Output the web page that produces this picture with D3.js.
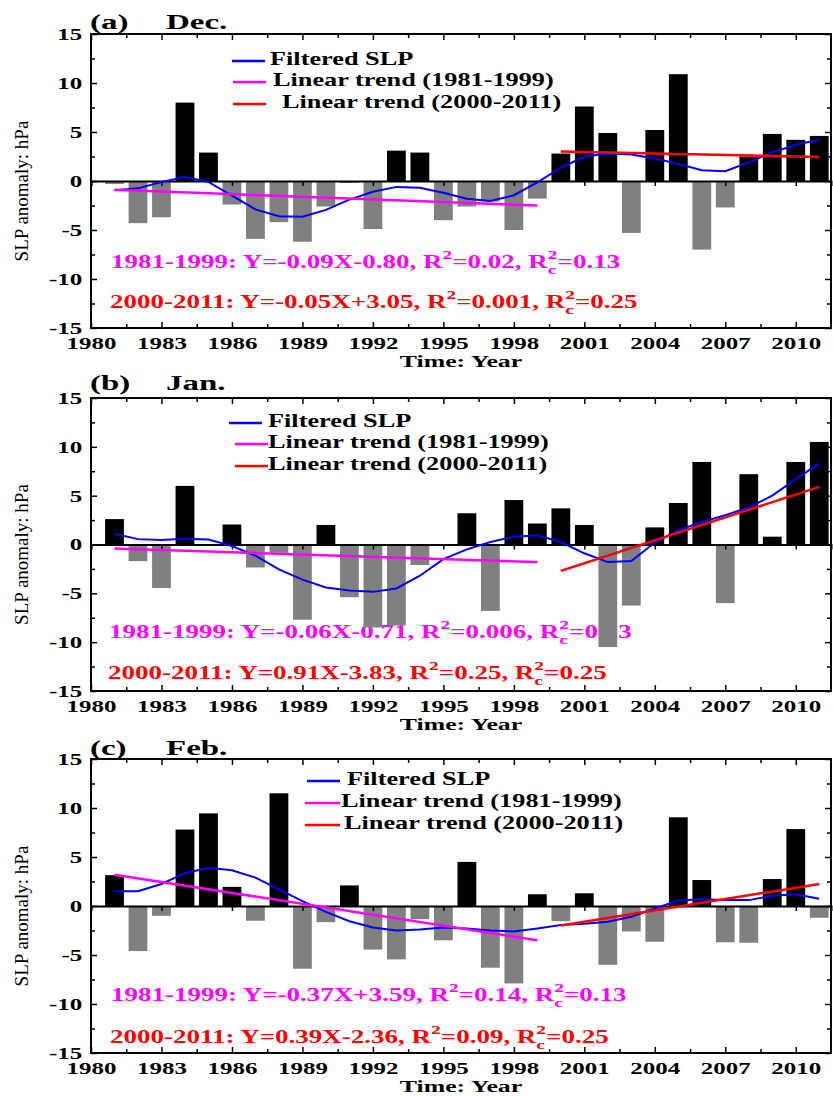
<!DOCTYPE html>
<html>
<head>
<meta charset="utf-8">
<script src="https://cdn.jsdelivr.net/npm/d3@7"></script>
<style>
  body { margin: 0; background: #fff; }
</style>
</head>
<body>
<div id="chart"></div>
<script>
// Data (hPa anomalies)

const years = [1981, 1982, 1983, 1984, 1985, 1986, 1987, 1988, 1989, 1990,
    1991, 1992, 1993, 1994, 1995, 1996, 1997, 1998, 1999, 2000,
    2001, 2002, 2003, 2004, 2005, 2006, 2007, 2008, 2009, 2010, 2011];

const decValues = [-0.3, -4.3, -3.7, 8.0, 2.9, -2.4, -5.9, -4.2, -6.2, -2.6,
    -0.2, -4.9, 3.1, 2.9, -4.0, -2.6, -2.1, -5.0, -1.8, 2.8,
    7.6, 4.9, -5.3, 5.2, 10.9, -7.0, -2.7, 2.5, 4.8, 4.2, 4.6];
const decFiltered = [-0.95, -0.75, -0.1, 0.4, -0.1, -1.5, -2.9, -3.6, -3.65, -2.95,
    -1.9, -1.1, -0.6, -0.7, -1.2, -1.8, -2.05, -1.45, -0.15, 1.35,
    2.5, 2.8, 2.7, 2.3, 1.75, 1.1, 1.0, 1.9, 2.9, 3.7, 4.2];

const janValues = [2.6, -1.7, -4.45, 6.0, 0, 2.05, -2.35, -0.85, -7.7, 2.0,
    -5.4, -8.5, -8.3, -2.1, 0, 3.2, -6.8, 4.55, 2.15, 3.7,
    2.0, -10.5, -6.25, 1.75, 4.25, 8.45, -6.0, 7.2, 0.8, 8.45, 10.5];
const janFiltered = [1.1, 0.55, 0.45, 0.6, 0.5, -0.15, -1.15, -2.55, -3.6, -4.4,
    -4.7, -4.85, -4.5, -3.2, -1.5, -0.5, 0.25, 0.8, 0.95, 0.25,
    -0.9, -1.8, -1.7, 0.2, 1.45, 2.3, 3.0, 3.8, 5.0, 6.7, 8.3];

const febValues = [3.15, -4.6, -1.0, 7.8, 9.45, 1.95, -1.5, 11.5, -6.4, -1.65,
    2.1, -4.45, -5.45, -1.35, -3.5, 4.5, -6.3, -7.9, 1.2, -1.55,
    1.3, -6.0, -2.6, -3.65, 9.05, 2.65, -3.7, -3.75, 2.75, 7.85, -1.2];
const febFiltered = [1.5, 1.5, 2.25, 3.35, 3.9, 3.65, 2.9, 1.7, 0.5, -0.6,
    -1.55, -2.2, -2.5, -2.4, -2.2, -2.3, -2.5, -2.6, -2.3, -1.95,
    -1.8, -1.6, -1.1, -0.25, 0.55, 0.7, 0.6, 0.6, 1.05, 1.2, 0.75];

// linear trends: start / end values
const earlyYears = [1981, 1999];
const lateYears = [2000, 2011];
const decEarly = [-0.9, -2.5];
const decLate = [3.0, 2.45];
const janEarly = [-0.4, -1.8];
const janLate = [-2.7, 5.9];
const febEarly = [3.2, -3.5];
const febLate = [-2.0, 2.25];

// regression notes: period, equation, R2, Rc2
const decNotes = [["1981-1999", "-0.09X-0.80", "0.02", "0.13"],
                  ["2000-2011", "-0.05X+3.05", "0.001", "0.25"]];
const janNotes = [["1981-1999", "-0.06X-0.71", "0.006", "0.13"],
                  ["2000-2011", "0.91X-3.83", "0.25", "0.25"]];
const febNotes = [["1981-1999", "-0.37X+3.59", "0.14", "0.13"],
                  ["2000-2011", "0.39X-2.36", "0.09", "0.25"]];

const legendLabels = ["Filtered SLP", "Linear trend (1981-1999)", "Linear trend (2000-2011)"];
const majorYears = [1980, 1983, 1986, 1989, 1992, 1995, 1998, 2001, 2004, 2007, 2010];
const minorYears = [1981.5, 1984.5, 1987.5, 1990.5, 1993.5, 1996.5, 1999.5, 2002.5, 2005.5, 2008.5];
const majorY = [-15, -10, -5, 0, 5, 10, 15];
const minorY = [-12.5, -7.5, -2.5, 2.5, 7.5, 12.5];

const blue = "#0000ff";
const magenta = "#ff00ff";
const red = "#ff0000";
const gray = "#808080";
const serif = "'Liberation Serif', 'Times New Roman', Times, 'DejaVu Serif', serif";

const width = 833;
const height = 1096;

const svg = d3.select("#chart")
    .append("svg")
    .attr("width", width)
    .attr("height", height)
    .attr("font-family", serif);

const xScale = d3.scaleLinear()
    .domain([1980, 2011.5])
    .range([91, 831]);

const barW = xScale(1980.8) - xScale(1980);

const panels = [
    { letter: "(a)", month: "Dec.", top: 34, bottom: 328, titleY: 29,
      values: decValues, filtered: decFiltered, early: decEarly, late: decLate, notes: decNotes,
      legLines: [[232, 265], [233, 266], [233, 266]], legX: [270, 273, 282], legY: [65, 86, 108],
      noteX: [111, 110], noteY: [268, 308] },
    { letter: "(b)", month: "Jan.", top: 398, bottom: 691, titleY: 390,
      values: janValues, filtered: janFiltered, early: janEarly, late: janLate, notes: janNotes,
      legLines: [[229, 262], [235, 268], [235, 268]], legX: [268, 268, 268], legY: [427, 448, 470],
      noteX: [109, 108], noteY: [638, 679] },
    { letter: "(c)", month: "Feb.", top: 759, bottom: 1053, titleY: 755,
      values: febValues, filtered: febFiltered, early: febEarly, late: febLate, notes: febNotes,
      legLines: [[307, 340], [305, 340], [305, 340]], legX: [347, 341, 344], legY: [785, 807, 829],
      noteX: [111, 110], noteY: [1001, 1043] }
];

const stretchText = (g, x, y, sx, size, str) => g.append("text")
    .attr("transform", `translate(${x},${y}) scale(${sx},1)`)
    .attr("font-family", serif)
    .attr("font-size", size)
    .attr("font-weight", "bold")
    .text(str);

const drawNote = (g, x, y, color, note) => {
    const t = g.append("text")
        .attr("transform", `translate(${x},${y}) scale(1.5,1)`)
        .attr("font-family", serif)
        .attr("font-size", 18)
        .attr("font-weight", "bold")
        .attr("fill", color);
    t.append("tspan").text(`${note[0]}: Y=${note[1]}, R`);
    t.append("tspan").attr("font-size", 13).attr("dy", -9).text("2");
    t.append("tspan").attr("dy", 9).text(`=${note[2]}, R`);
    t.append("tspan").attr("font-size", 13).attr("dy", 6).text("c");
    t.append("tspan").attr("font-size", 13).attr("dx", -5.8).attr("dy", -15).text("2");
    t.append("tspan").attr("dy", 9).text(`=${note[3]}`);
};

const drawPanel = (p) => {
    const g = svg.append("g");

    const yScale = d3.scaleLinear()
        .domain([-15, 15])
        .range([p.bottom, p.top]);

    // regression notes sit behind the bars
    p.notes.forEach((n, i) => drawNote(g, p.noteX[i], p.noteY[i], i === 0 ? magenta : red, n));

    g.selectAll("rect.bar")
        .data(years.map((yr, i) => ({ yr, v: p.values[i] })))
        .join("rect")
        .attr("class", "bar")
        .attr("x", d => xScale(d.yr) - barW / 2)
        .attr("width", barW)
        .attr("y", d => yScale(Math.max(0, d.v)))
        .attr("height", d => Math.abs(yScale(d.v) - yScale(0)))
        .attr("fill", d => d.v >= 0 ? "#000" : gray);

    // zero line with ticks pointing down
    const zeroAxis = g.append("g")
        .attr("transform", `translate(0,${yScale(0)})`)
        .call(d3.axisBottom(xScale).tickValues(majorYears).tickSize(5).tickFormat(""));
    zeroAxis.select(".domain").attr("stroke-width", 2);

    const line = d3.line()
        .x(d => xScale(d[0]))
        .y(d => yScale(d[1]));

    g.append("path")
        .attr("d", line(years.map((yr, i) => [yr, p.filtered[i]])))
        .attr("fill", "none")
        .attr("stroke", blue)
        .attr("stroke-width", 2);

    g.append("path")
        .attr("d", line(earlyYears.map((yr, i) => [yr, p.early[i]])))
        .attr("fill", "none")
        .attr("stroke", magenta)
        .attr("stroke-width", 2.5);

    g.append("path")
        .attr("d", line(lateYears.map((yr, i) => [yr, p.late[i]])))
        .attr("fill", "none")
        .attr("stroke", red)
        .attr("stroke-width", 2.5);

    // axes, ticks inside the frame
    const bottom = g.append("g")
        .attr("transform", `translate(0,${p.bottom})`)
        .call(d3.axisBottom(xScale).tickValues(majorYears).tickSize(-6).tickPadding(9)
            .tickFormat(d3.format("d")));
    bottom.selectAll("text")
        .attr("font-family", serif)
        .attr("font-size", 17)
        .attr("font-weight", "bold")
        .attr("fill", "#000")
        .attr("transform", "scale(1.47,1)");

    g.append("g")
        .attr("transform", `translate(0,${p.bottom})`)
        .call(d3.axisBottom(xScale).tickValues(minorYears).tickSize(-4).tickFormat(""));

    g.append("g")
        .attr("transform", `translate(0,${p.top})`)
        .call(d3.axisTop(xScale).tickValues(majorYears).tickSize(-6).tickFormat(""));
    g.append("g")
        .attr("transform", `translate(0,${p.top})`)
        .call(d3.axisTop(xScale).tickValues(minorYears).tickSize(-4).tickFormat(""));

    const leftAx = g.append("g")
        .attr("transform", `translate(${xScale.range()[0]},0)`)
        .call(d3.axisLeft(yScale).tickValues(majorY).tickSize(-6).tickPadding(6)
            .tickFormat(d => d < 0 ? "-" + Math.abs(d) : d));
    leftAx.selectAll("text")
        .attr("font-family", serif)
        .attr("font-size", 17)
        .attr("font-weight", "bold")
        .attr("fill", "#000")
        .attr("transform", "scale(1.47,1)");
    g.append("g")
        .attr("transform", `translate(${xScale.range()[0]},0)`)
        .call(d3.axisLeft(yScale).tickValues(minorY).tickSize(-4).tickFormat(""));

    g.append("g")
        .attr("transform", `translate(${xScale.range()[1]},0)`)
        .call(d3.axisRight(yScale).tickValues(majorY).tickSize(-6).tickFormat(""));
    g.append("g")
        .attr("transform", `translate(${xScale.range()[1]},0)`)
        .call(d3.axisRight(yScale).tickValues(minorY).tickSize(-4).tickFormat(""));

    g.selectAll(".domain").filter(function () { return this.parentNode !== zeroAxis.node(); }).remove();
    g.selectAll(".tick line").attr("stroke-width", 1.5);

    // frame
    g.append("rect")
        .attr("x", xScale.range()[0])
        .attr("y", p.top)
        .attr("width", xScale.range()[1] - xScale.range()[0])
        .attr("height", p.bottom - p.top)
        .attr("fill", "none")
        .attr("stroke", "#000")
        .attr("stroke-width", 2);

    // legend
    [blue, magenta, red].forEach((c, i) => {
        g.append("line")
            .attr("x1", p.legLines[i][0])
            .attr("x2", p.legLines[i][1])
            .attr("y1", p.legY[i] - 4)
            .attr("y2", p.legY[i] - 4)
            .attr("stroke", c)
            .attr("stroke-width", 2.5);
        stretchText(g, p.legX[i], p.legY[i], 1.46, 18, legendLabels[i]);
    });

    // titles
    stretchText(g, 90, p.titleY, 1.65, 20, p.letter);
    stretchText(g, 166, p.titleY, 1.65, 20, p.month);

    stretchText(g, 461, p.bottom + 39, 1.61, 16, "Time: Year")
        .attr("text-anchor", "middle");

    g.append("text")
        .attr("transform", `translate(28,${yScale(0) + 10}) rotate(-90)`)
        .attr("text-anchor", "middle")
        .attr("font-family", serif)
        .attr("font-size", 19)
        .text("SLP anomaly: hPa");
};

panels.forEach(drawPanel);
</script>
</body>
</html>
